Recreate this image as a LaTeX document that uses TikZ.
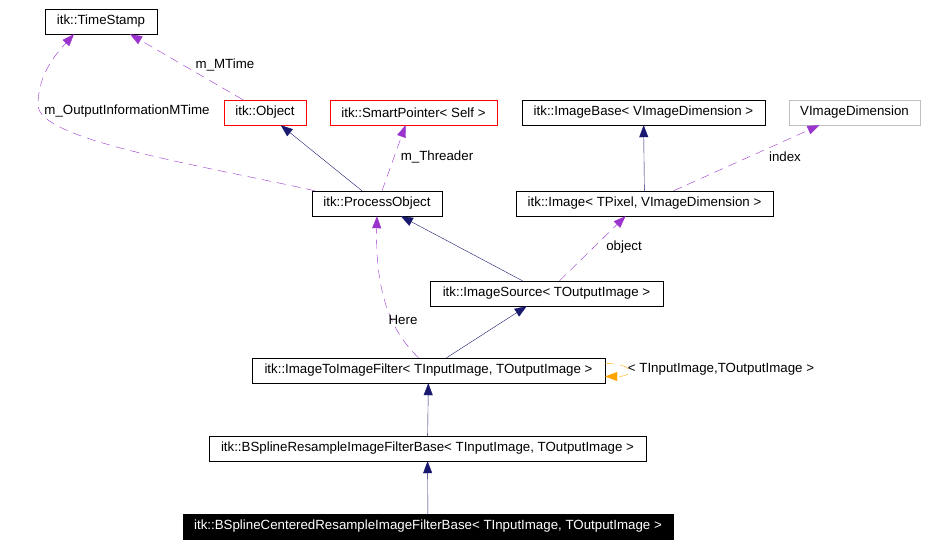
\documentclass[tikz,border=0pt]{standalone}
\usepackage{fontspec}
\setmainfont{Liberation Sans}
\usetikzlibrary{arrows.meta}

\definecolor{inhblue}{RGB}{25,25,112}
\definecolor{usepurple}{RGB}{154,50,205}
\definecolor{tmplorange}{RGB}{255,165,0}

\begin{document}
\begin{tikzpicture}[
    x=1pt, y=-1pt,
    font=\fontsize{13.3}{15}\selectfont,
    cls/.style={draw, inner sep=0pt, minimum height=25pt, fill=white},
    redcls/.style={cls, draw=red},
    greycls/.style={cls, draw=black!25},
    curcls/.style={cls, fill=black, text=white},
    inh/.style={-{Triangle[length=12pt,width=9pt]}, inhblue},
    usedby/.style={-{Triangle[length=12pt,width=9pt]}, usepurple, dash pattern=on 9pt off 6pt},
    tmpl/.style={-{Triangle[length=12pt,width=9pt]}, tmplorange, dash pattern=on 9pt off 6pt},
    lbl/.style={inner sep=1pt}
]
    \useasboundingbox (0,0) rectangle (927,546);

    \node[cls, minimum width=112pt] (timestamp) at (101,21.5) {itk::TimeStamp};
    \node[redcls, minimum width=82pt] (object) at (265,112.5) {itk::Object};
    \node[redcls, minimum width=167pt] (smartptr) at (413.5,112.5) {itk::SmartPointer< Self >};
    \node[cls, minimum width=243pt] (imgbase) at (643.5,112.5) {itk::ImageBase< VImageDimension >};
    \node[greycls, minimum width=131pt] (vdim) at (854.5,112.5) {VImageDimension};
    \node[cls, minimum width=130pt] (procobj) at (377,203.5) {itk::ProcessObject};
    \node[cls, minimum width=257pt] (image) at (644.5,203.5) {itk::Image< TPixel, VImageDimension >};
    \node[cls, minimum width=233pt] (imgsrc) at (546.5,293.5) {itk::ImageSource< TOutputImage >};
    \node[cls, minimum width=353pt] (itif) at (428.5,370.5) {itk::ImageToImageFilter< TInputImage, TOutputImage >};
    \node[cls, minimum width=437pt] (bsrbase) at (427.5,448.5) {itk::BSplineResampleImageFilterBase< TInputImage, TOutputImage >};
    \node[curcls, minimum width=490pt] (bscbase) at (428,526.5) {itk::BSplineCenteredResampleImageFilterBase< TInputImage, TOutputImage >};

    % inheritance
    \draw[inh] ([xshift=-15pt]procobj.north) -- (object);
    \draw[inh] (image) -- (imgbase);
    \draw[inh] ([xshift=-24pt]imgsrc.north) -- (procobj);
    \draw[inh] ([xshift=18pt]itif.north) -- (imgsrc);
    \draw[inh] (bsrbase) -- (itif);
    \draw[inh] (bscbase) -- (bsrbase);

    % usage
    \draw[usedby] ([xshift=-22pt]object.north) -- ([xshift=29pt]timestamp.south);
    \node[lbl] (lmtime) at (225,65) {m\_MTime};
    \draw[usedby] ([xshift=-62pt]procobj.north) .. controls (200,165) and (38,140) .. (38,105)
        .. controls (38,75) and (55,55) .. ([xshift=-27pt]timestamp.south);
    \node[lbl] (loutinfo) at (127,111) {m\_OutputInformationMTime};
    \draw[usedby] ([xshift=5pt]procobj.north) -- ([xshift=-8pt]smartptr.south);
    \node[lbl] (lthreader) at (437,157) {m\_Threader};
    \draw[usedby] ([xshift=29pt]image.north) -- ([xshift=-35pt]vdim.south);
    \node[lbl] (lindex) at (785,157) {index};
    \draw[usedby] ([xshift=13pt]imgsrc.north) -- ([xshift=-19pt]image.south);
    \node[lbl] (lobject) at (624,247) {object};
    \draw[usedby] ([xshift=-10pt]itif.north) .. controls (395,335) and (375,300) .. (procobj.south);
    \node[lbl] (lhere) at (403,320) {Here};

    % template instance
    \draw[tmpl] ([yshift=7pt]itif.east) .. controls +(30pt,0pt) and +(30pt,0pt) .. ([yshift=-6pt]itif.east);
    \node[lbl] (linst) at (721,369) {< TInputImage,TOutputImage >};
\end{tikzpicture}
\end{document}
